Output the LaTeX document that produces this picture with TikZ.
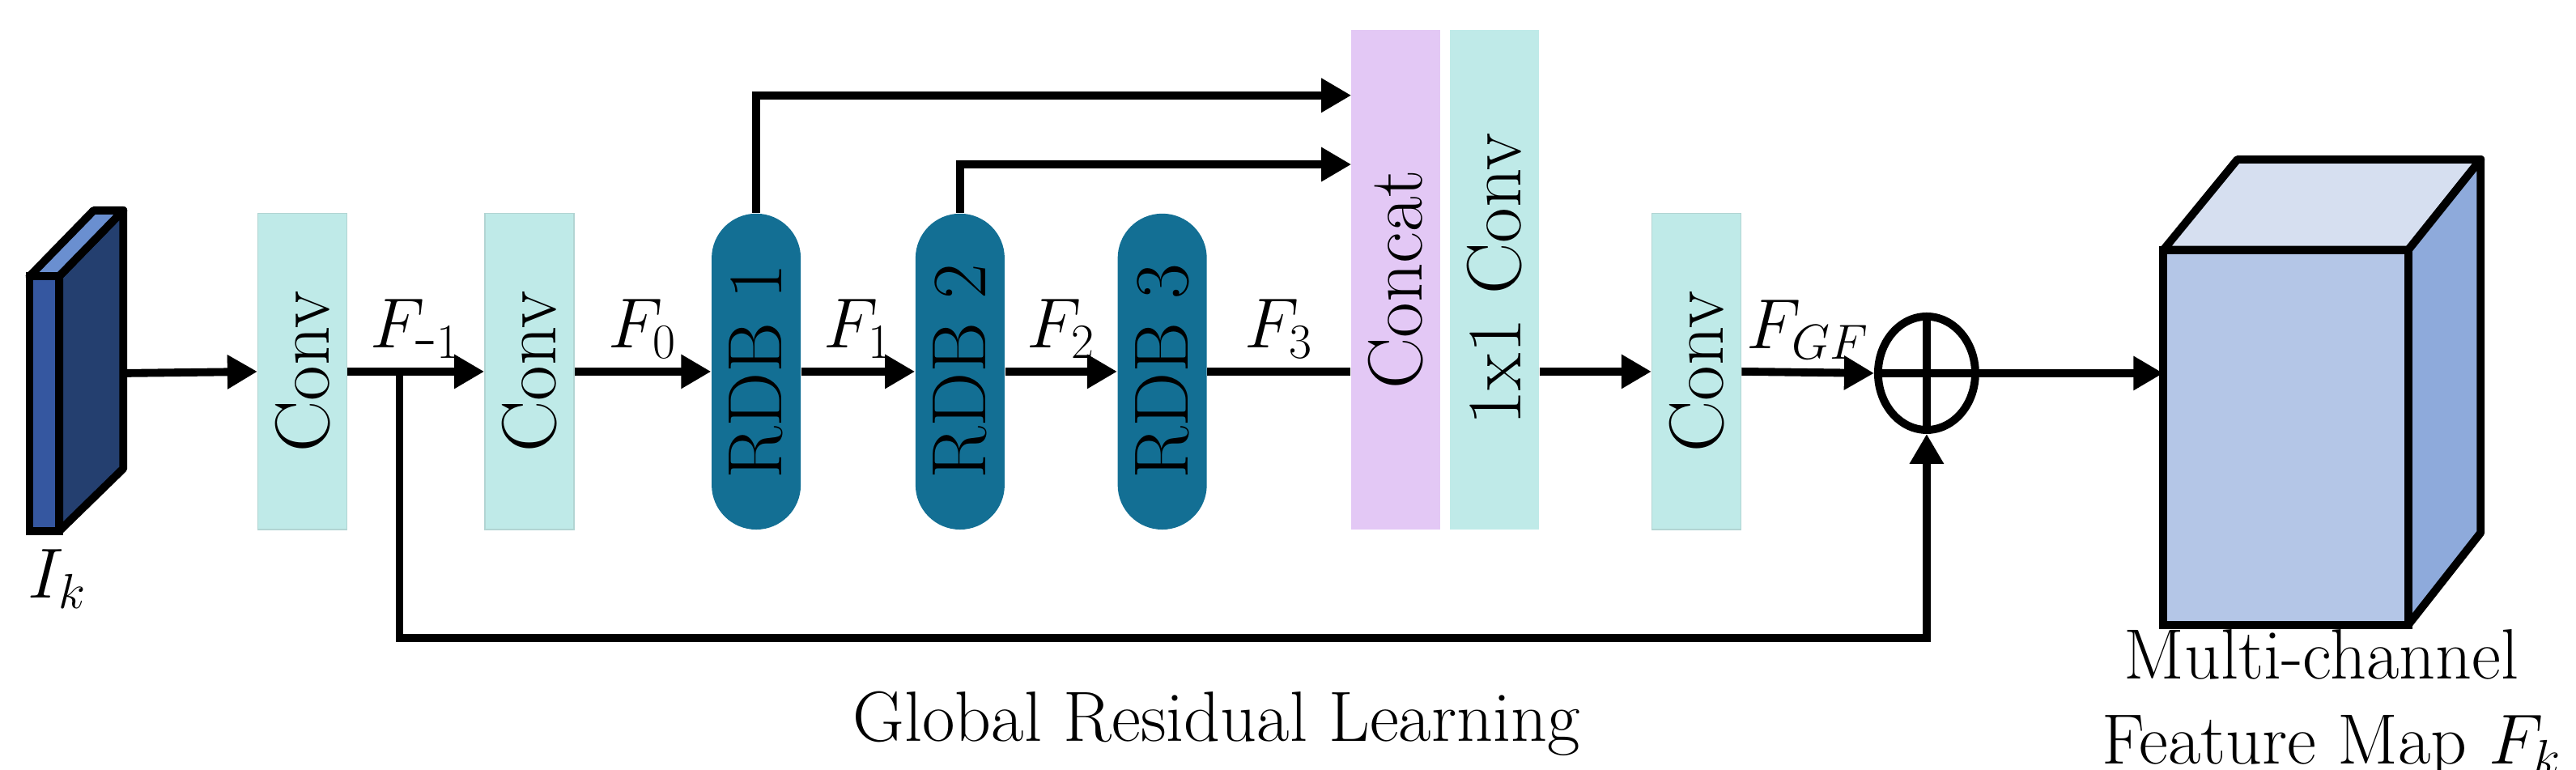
\documentclass[tikz,border=0pt]{standalone}
\usetikzlibrary{arrows.meta,shapes.geometric,positioning,calc}
\definecolor{convc}{HTML}{BFEAE8}
\definecolor{catc}{HTML}{E3C8F5}
\definecolor{rdbc}{HTML}{136F94}
\definecolor{slabA}{HTML}{243F6F}
\definecolor{slabB}{HTML}{3557A0}
\definecolor{slabC}{HTML}{6A8FD0}
\definecolor{cubeF}{HTML}{B4C6E7}
\definecolor{cubeT}{HTML}{D6DFF0}
\definecolor{cubeS}{HTML}{8EAADB}
\tikzset{
  blk/.style={rotate=90, minimum width=3.9cm, minimum height=1.1cm, inner sep=0pt, font=\fontsize{27}{30}\selectfont},
  conv/.style={blk, fill=convc, draw=convc!80!gray, line width=0.4pt},
  rdb/.style={blk, fill=rdbc, rounded corners=0.55cm},
  tall/.style={blk, minimum width=6.17cm},
  arr/.style={line width=2.8pt, -{Triangle[length=0.37cm,width=0.4cm]}},
  ln/.style={line width=2.8pt},
  lbl/.style={font=\fontsize{25}{30}\selectfont},
}
\begin{document}
\begin{tikzpicture}[x=0.0203cm, y=-0.0203cm]
  \useasboundingbox (0,0) rectangle (1567,468);
  % input slab
  \draw[ln, line join=round, fill=slabA] (36,168) -- (75,128) -- (75,285) -- (36,323) -- cycle;
  \draw[ln, line join=round, fill=slabC] (18,168) -- (57,128) -- (75,128) -- (36,168) -- cycle;
  \draw[ln, fill=slabB] (18,168) rectangle (36,323);
  \coordinate (slab) at (75,227);
  \node[lbl] (ik) at (35,352) {$I_k$};

  % blocks
  \node[conv] (conv1) at (184,226) {Conv};
  \node[conv] (conv2) at (322,226) {Conv};
  \node[rdb] (rdb1) at (460,226) {RDB 1};
  \node[rdb] (rdb2) at (584,226) {RDB 2};
  \node[rdb] (rdb3) at (707,226) {RDB 3};
  \node[tall, fill=catc] (concat) at (849,170) {Concat};
  \node[tall, fill=convc] (fuse) at (909,170) {1x1 Conv};
  \node[conv] (conv3) at (1032,226) {Conv};
  \node[ellipse, draw, line width=2.8pt, minimum width=1.2cm, minimum height=1.4cm, inner sep=0pt] (plus) at (1172,227) {};
  \draw[ln] (plus.north) -- (plus.south) (plus.west) -- (plus.east);

  % output cube
  \draw[ln, line join=round, fill=cubeT] (1316,152) -- (1361,97) -- (1509,97) -- (1465,152) -- cycle;
  \draw[ln, line join=round, fill=cubeS] (1465,152) -- (1509,97) -- (1509,324) -- (1465,380) -- cycle;
  \draw[ln, fill=cubeF] (1316,152) rectangle (1465,380);
  \coordinate (cube) at (1316,227);
  \node[lbl, align=center] (fk) at (1412,428) {Multi-channel\\ \ Feature Map $F_k$};

  % main path
  \draw[arr] (slab) -- (conv1.north);
  \draw[arr] (conv1.south) -- node[lbl, above] {$F_{\mbox{-}1}$} (conv2.north);
  \draw[arr] (conv2.south) -- node[lbl, above] {$F_0$} (rdb1.north);
  \draw[arr] (rdb1.south) -- node[lbl, above] {$F_1$} (rdb2.north);
  \draw[arr] (rdb2.south) -- node[lbl, above] {$F_2$} (rdb3.north);
  \draw[ln] (rdb3.south) -- node[lbl, above] {$F_3$} (rdb3.south -| concat.north);
  \draw[arr] (fuse.south |- conv3) -- (conv3.north);
  \draw[arr] (conv3.south) -- node[lbl, above] {$F_{GF}$} (plus.west);
  \draw[arr] (plus.east) -- (cube);

  % dense links
  \coordinate (top1) at (822,58);
  \coordinate (top2) at (822,100);
  \draw[arr] (rdb1.east) |- (top1);
  \draw[arr] (rdb2.east) |- (top2);

  % global residual
  \coordinate (br) at (243,227);
  \coordinate (gl) at (243,388);
  \draw[arr] (br) -- (gl) -| (plus.south);
  \node[lbl] (grl) at (740,440) {Global Residual Learning};
\end{tikzpicture}
\end{document}
